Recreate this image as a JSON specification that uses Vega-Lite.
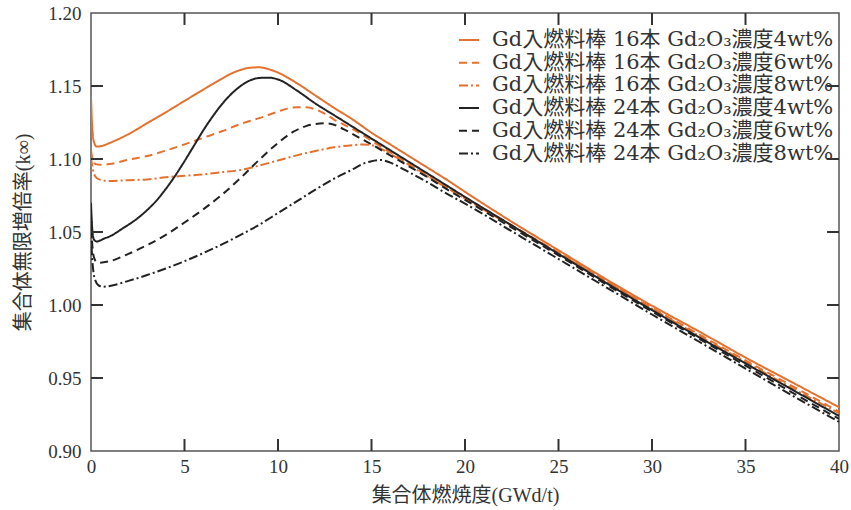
{
  "$schema": "https://vega.github.io/schema/vega-lite/v6.json",
  "width": 748,
  "height": 438,
  "autosize": "none",
  "padding": {"left": 91, "top": 13, "right": 12, "bottom": 59},
  "config": {
    "view": {"stroke": "#555", "strokeWidth": 1.5},
    "font": "Liberation Serif, Noto Sans CJK JP",
    "axis": {"labelFont": "Liberation Serif, Noto Sans CJK JP", "titleFont": "Liberation Serif, Noto Sans CJK JP", "labelColor": "#333", "titleColor": "#333", "grid": false, "domain": false, "ticks": false}
  },
  "datasets": {
    "d": [
      {"s":"A","x":0,"y":1.143},{"s":"A","x":0.05,"y":1.125},{"s":"A","x":0.15,"y":1.112},{"s":"A","x":0.3,"y":1.1085},{"s":"A","x":0.6,"y":1.109},{"s":"A","x":1,"y":1.111},{"s":"A","x":2,"y":1.117},{"s":"A","x":3,"y":1.1245},{"s":"A","x":4,"y":1.132},{"s":"A","x":5,"y":1.1398},{"s":"A","x":6,"y":1.1475},{"s":"A","x":7,"y":1.155},{"s":"A","x":7.5,"y":1.1585},{"s":"A","x":8,"y":1.161},{"s":"A","x":8.5,"y":1.1625},{"s":"A","x":9,"y":1.1628},{"s":"A","x":9.5,"y":1.1615},{"s":"A","x":10,"y":1.1592},{"s":"A","x":11,"y":1.152},{"s":"A","x":12,"y":1.1435},{"s":"A","x":13,"y":1.135},{"s":"A","x":14,"y":1.127},{"s":"A","x":15,"y":1.118},{"s":"A","x":16,"y":1.11},{"s":"A","x":17,"y":1.102},{"s":"A","x":18,"y":1.094},{"s":"A","x":19,"y":1.086},{"s":"A","x":20,"y":1.0775},{"s":"A","x":22.5,"y":1.057},{"s":"A","x":25,"y":1.0375},{"s":"A","x":27.5,"y":1.018},{"s":"A","x":30,"y":0.9995},{"s":"A","x":32.5,"y":0.982},{"s":"A","x":35,"y":0.964},{"s":"A","x":37.5,"y":0.947},{"s":"A","x":40,"y":0.93},

      {"s":"B","x":0,"y":1.106},{"s":"B","x":0.1,"y":1.099},{"s":"B","x":0.25,"y":1.0965},{"s":"B","x":0.5,"y":1.096},{"s":"B","x":1,"y":1.0965},{"s":"B","x":2,"y":1.0995},{"s":"B","x":3,"y":1.102},{"s":"B","x":4,"y":1.1058},{"s":"B","x":5,"y":1.11},{"s":"B","x":6,"y":1.1145},{"s":"B","x":7,"y":1.119},{"s":"B","x":8,"y":1.124},{"s":"B","x":9,"y":1.128},{"s":"B","x":10,"y":1.1325},{"s":"B","x":10.5,"y":1.1345},{"s":"B","x":11,"y":1.1355},{"s":"B","x":11.5,"y":1.1355},{"s":"B","x":12,"y":1.134},{"s":"B","x":12.5,"y":1.131},{"s":"B","x":13,"y":1.127},{"s":"B","x":14,"y":1.1205},{"s":"B","x":15,"y":1.1125},{"s":"B","x":16,"y":1.1045},{"s":"B","x":17,"y":1.0965},{"s":"B","x":18,"y":1.0885},{"s":"B","x":19,"y":1.0805},{"s":"B","x":20,"y":1.073},{"s":"B","x":22.5,"y":1.0545},{"s":"B","x":25,"y":1.036},{"s":"B","x":27.5,"y":1.017},{"s":"B","x":30,"y":0.998},{"s":"B","x":32.5,"y":0.98},{"s":"B","x":35,"y":0.962},{"s":"B","x":37.5,"y":0.9445},{"s":"B","x":40,"y":0.927},

      {"s":"C","x":0,"y":1.101},{"s":"C","x":0.1,"y":1.093},{"s":"C","x":0.3,"y":1.087},{"s":"C","x":0.6,"y":1.0855},{"s":"C","x":1,"y":1.085},{"s":"C","x":2,"y":1.0855},{"s":"C","x":3,"y":1.086},{"s":"C","x":4,"y":1.0875},{"s":"C","x":5,"y":1.0885},{"s":"C","x":6,"y":1.0895},{"s":"C","x":7,"y":1.091},{"s":"C","x":8,"y":1.0925},{"s":"C","x":9,"y":1.0955},{"s":"C","x":10,"y":1.099},{"s":"C","x":11,"y":1.1025},{"s":"C","x":12,"y":1.1055},{"s":"C","x":13,"y":1.108},{"s":"C","x":14,"y":1.1095},{"s":"C","x":14.5,"y":1.11},{"s":"C","x":15,"y":1.1095},{"s":"C","x":15.5,"y":1.107},{"s":"C","x":16,"y":1.1035},{"s":"C","x":17,"y":1.096},{"s":"C","x":18,"y":1.088},{"s":"C","x":19,"y":1.0805},{"s":"C","x":20,"y":1.073},{"s":"C","x":22.5,"y":1.054},{"s":"C","x":25,"y":1.0355},{"s":"C","x":27.5,"y":1.0165},{"s":"C","x":30,"y":0.9975},{"s":"C","x":32.5,"y":0.979},{"s":"C","x":35,"y":0.961},{"s":"C","x":37.5,"y":0.943},{"s":"C","x":40,"y":0.926},

      {"s":"D","x":0,"y":1.07},{"s":"D","x":0.05,"y":1.055},{"s":"D","x":0.15,"y":1.045},{"s":"D","x":0.3,"y":1.0435},{"s":"D","x":0.7,"y":1.0455},{"s":"D","x":1,"y":1.047},{"s":"D","x":1.7,"y":1.0525},{"s":"D","x":2.5,"y":1.0595},{"s":"D","x":3,"y":1.065},{"s":"D","x":3.5,"y":1.0715},{"s":"D","x":4,"y":1.0795},{"s":"D","x":4.5,"y":1.0885},{"s":"D","x":5,"y":1.0985},{"s":"D","x":5.5,"y":1.109},{"s":"D","x":6,"y":1.1195},{"s":"D","x":6.5,"y":1.129},{"s":"D","x":7,"y":1.1375},{"s":"D","x":7.5,"y":1.1445},{"s":"D","x":8,"y":1.1500},{"s":"D","x":8.5,"y":1.1538},{"s":"D","x":9,"y":1.1555},{"s":"D","x":9.5,"y":1.1557},{"s":"D","x":10,"y":1.1545},{"s":"D","x":11,"y":1.147},{"s":"D","x":12,"y":1.138},{"s":"D","x":13,"y":1.13},{"s":"D","x":14,"y":1.122},{"s":"D","x":15,"y":1.114},{"s":"D","x":16,"y":1.106},{"s":"D","x":17,"y":1.098},{"s":"D","x":18,"y":1.09},{"s":"D","x":19,"y":1.082},{"s":"D","x":20,"y":1.074},{"s":"D","x":22.5,"y":1.0545},{"s":"D","x":25,"y":1.035},{"s":"D","x":27.5,"y":1.0155},{"s":"D","x":30,"y":0.9965},{"s":"D","x":32.5,"y":0.978},{"s":"D","x":35,"y":0.96},{"s":"D","x":37.5,"y":0.942},{"s":"D","x":40,"y":0.924},

      {"s":"E","x":0,"y":1.062},{"s":"E","x":0.05,"y":1.045},{"s":"E","x":0.15,"y":1.033},{"s":"E","x":0.3,"y":1.0295},{"s":"E","x":0.5,"y":1.029},{"s":"E","x":1,"y":1.03},{"s":"E","x":2,"y":1.035},{"s":"E","x":3,"y":1.041},{"s":"E","x":4,"y":1.048},{"s":"E","x":5,"y":1.0565},{"s":"E","x":6,"y":1.0655},{"s":"E","x":7,"y":1.0755},{"s":"E","x":8,"y":1.087},{"s":"E","x":9,"y":1.0995},{"s":"E","x":10,"y":1.111},{"s":"E","x":10.8,"y":1.1185},{"s":"E","x":11.5,"y":1.1225},{"s":"E","x":12,"y":1.124},{"s":"E","x":12.5,"y":1.1245},{"s":"E","x":13,"y":1.1235},{"s":"E","x":13.5,"y":1.1205},{"s":"E","x":14,"y":1.117},{"s":"E","x":15,"y":1.11},{"s":"E","x":16,"y":1.1025},{"s":"E","x":17,"y":1.095},{"s":"E","x":18,"y":1.0875},{"s":"E","x":19,"y":1.0795},{"s":"E","x":20,"y":1.072},{"s":"E","x":22.5,"y":1.053},{"s":"E","x":25,"y":1.034},{"s":"E","x":27.5,"y":1.0145},{"s":"E","x":30,"y":0.9955},{"s":"E","x":32.5,"y":0.977},{"s":"E","x":35,"y":0.9585},{"s":"E","x":37.5,"y":0.94},{"s":"E","x":40,"y":0.922},

      {"s":"F","x":0,"y":1.052},{"s":"F","x":0.05,"y":1.035},{"s":"F","x":0.2,"y":1.018},{"s":"F","x":0.4,"y":1.0135},{"s":"F","x":0.65,"y":1.0125},{"s":"F","x":1,"y":1.013},{"s":"F","x":2,"y":1.0165},{"s":"F","x":3,"y":1.0205},{"s":"F","x":4,"y":1.025},{"s":"F","x":5,"y":1.03},{"s":"F","x":6,"y":1.0355},{"s":"F","x":7,"y":1.0415},{"s":"F","x":8,"y":1.048},{"s":"F","x":9,"y":1.055},{"s":"F","x":10,"y":1.063},{"s":"F","x":11,"y":1.071},{"s":"F","x":12,"y":1.079},{"s":"F","x":13,"y":1.0865},{"s":"F","x":14,"y":1.093},{"s":"F","x":14.5,"y":1.0965},{"s":"F","x":15,"y":1.0985},{"s":"F","x":15.5,"y":1.0993},{"s":"F","x":16,"y":1.0975},{"s":"F","x":16.5,"y":1.0945},{"s":"F","x":17,"y":1.091},{"s":"F","x":18,"y":1.084},{"s":"F","x":19,"y":1.0765},{"s":"F","x":20,"y":1.0695},{"s":"F","x":22.5,"y":1.0505},{"s":"F","x":25,"y":1.0315},{"s":"F","x":27.5,"y":1.0125},{"s":"F","x":30,"y":0.9935},{"s":"F","x":32.5,"y":0.975},{"s":"F","x":35,"y":0.9565},{"s":"F","x":37.5,"y":0.938},{"s":"F","x":40,"y":0.92}
    ],
    "xt": [{"t":5},{"t":10},{"t":15},{"t":20},{"t":25},{"t":30},{"t":35}],
    "yt": [{"v":0.95},{"v":1.0},{"v":1.05},{"v":1.1},{"v":1.15}]
  },
  "layer": [
    {
      "data": {"name": "d"},
      "transform": [
        {"calculate": "{'A':'Gd入燃料棒 16本 Gd₂O₃濃度4wt%','B':'Gd入燃料棒 16本 Gd₂O₃濃度6wt%','C':'Gd入燃料棒 16本 Gd₂O₃濃度8wt%','D':'Gd入燃料棒 24本 Gd₂O₃濃度4wt%','E':'Gd入燃料棒 24本 Gd₂O₃濃度6wt%','F':'Gd入燃料棒 24本 Gd₂O₃濃度8wt%'}[datum.s]", "as": "series"}
      ],
      "mark": {"type": "line", "strokeWidth": 2, "interpolate": "monotone", "clip": true},
      "encoding": {
        "x": {"field": "x", "type": "quantitative", "scale": {"domain": [0, 40], "nice": false},
          "axis": {"orient": "bottom", "values": [0,5,10,15,20,25,30,35,40], "labelPadding": 6, "labelFontSize": 19, "title": "集合体燃焼度(GWd/t)", "titleFontSize": 20, "titleFontWeight": "normal", "titlePadding": 9, "labelFlush": false}},
        "y": {"field": "y", "type": "quantitative", "scale": {"domain": [0.9, 1.2], "nice": false, "zero": false},
          "axis": {"orient": "left", "values": [0.9,0.95,1.0,1.05,1.1,1.15,1.2], "format": ".2f", "labelPadding": 10, "labelFontSize": 19, "title": "集合体無限増倍率(k∞)", "titleFontSize": 20, "titleFontWeight": "normal", "titlePadding": 14, "labelFlush": false}},
        "order": {"field": "x", "type": "quantitative"},
        "color": {"field": "series", "type": "nominal",
          "scale": {"domain": ["Gd入燃料棒 16本 Gd₂O₃濃度4wt%","Gd入燃料棒 16本 Gd₂O₃濃度6wt%","Gd入燃料棒 16本 Gd₂O₃濃度8wt%","Gd入燃料棒 24本 Gd₂O₃濃度4wt%","Gd入燃料棒 24本 Gd₂O₃濃度6wt%","Gd入燃料棒 24本 Gd₂O₃濃度8wt%"],
            "range": ["#E5712F","#E5712F","#E5712F","#222222","#222222","#222222"]},
          "legend": {"orient": "none", "legendX": 367, "legendY": 16, "title": null, "labelFont": "DejaVu Serif, Noto Sans CJK JP", "labelFontSize": 21, "labelLimit": 500, "labelColor": "#333", "symbolType": "stroke", "symbolSize": 400, "symbolStrokeWidth": 2, "rowPadding": 1.7, "labelOffset": 12}},
        "strokeDash": {"field": "series", "type": "nominal",
          "scale": {"domain": ["Gd入燃料棒 16本 Gd₂O₃濃度4wt%","Gd入燃料棒 16本 Gd₂O₃濃度6wt%","Gd入燃料棒 16本 Gd₂O₃濃度8wt%","Gd入燃料棒 24本 Gd₂O₃濃度4wt%","Gd入燃料棒 24本 Gd₂O₃濃度6wt%","Gd入燃料棒 24本 Gd₂O₃濃度8wt%"],
            "range": [[1,0],[8,5],[9,3,2,3],[1,0],[8,5],[9,3,2,3]]}}
      }
    },
    {
      "data": {"name": "xt"},
      "mark": {"type": "rule", "color": "#333", "strokeWidth": 2},
      "encoding": {
        "x": {"field": "t", "type": "quantitative", "axis": null},
        "y": {"datum": 0.9, "type": "quantitative", "axis": null},
        "y2": {"datum": 0.9082}
      }
    },
    {
      "data": {"name": "xt"},
      "mark": {"type": "rule", "color": "#333", "strokeWidth": 2},
      "encoding": {
        "x": {"field": "t", "type": "quantitative", "axis": null},
        "y": {"datum": 1.2, "type": "quantitative", "axis": null},
        "y2": {"datum": 1.1918}
      }
    },
    {
      "data": {"name": "yt"},
      "mark": {"type": "rule", "color": "#333", "strokeWidth": 2},
      "encoding": {
        "y": {"field": "v", "type": "quantitative", "axis": null},
        "x": {"datum": 0, "type": "quantitative", "axis": null},
        "x2": {"datum": 0.64}
      }
    },
    {
      "data": {"name": "yt"},
      "mark": {"type": "rule", "color": "#333", "strokeWidth": 2},
      "encoding": {
        "y": {"field": "v", "type": "quantitative", "axis": null},
        "x": {"datum": 40, "type": "quantitative", "axis": null},
        "x2": {"datum": 39.36}
      }
    }
  ],
  "resolve": {"axis": {"x": "independent", "y": "independent"}}
}
